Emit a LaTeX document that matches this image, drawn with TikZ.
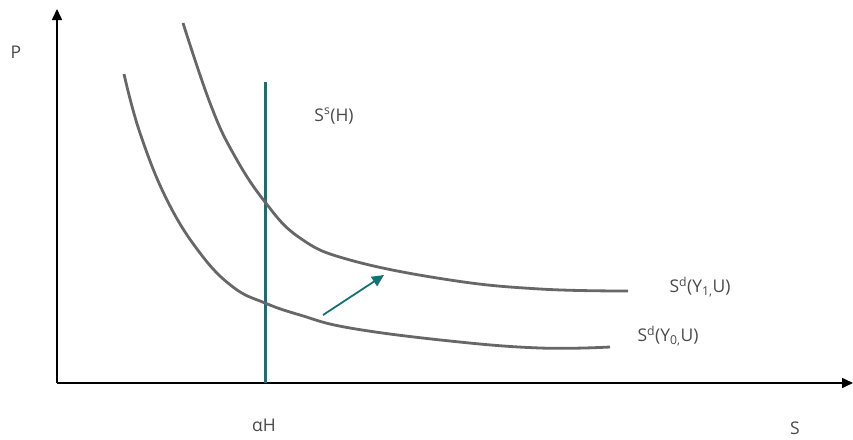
\documentclass[tikz,border=0pt]{standalone}
\usepackage{fontspec}
\setmainfont{Open Sans}
\usetikzlibrary{arrows.meta,positioning}
\definecolor{tealline}{HTML}{137273}
\definecolor{curvegrey}{HTML}{676767}
\definecolor{labelgrey}{HTML}{4A4A4A}

\begin{document}
\begin{tikzpicture}[x=1pt, y=-1pt,
  axis/.style={line width=1.6pt, -{Triangle[length=11pt, width=10pt]}},
  demand/.style={line width=2.8pt, color=curvegrey},
  supply/.style={line width=3pt, color=tealline},
  shift arrow/.style={line width=1.8pt, color=tealline, -{Triangle[length=12pt, width=11pt]}},
  lbl/.style={font=\fontsize{17.5}{20}\selectfont, text=labelgrey, inner sep=0pt}]
  \useasboundingbox (0,0) rectangle (853,439);
  % axes
  \coordinate (origin) at (57,383);
  \coordinate (ytop) at (57,9);
  \coordinate (xend) at (853,383);
  \draw[axis] (origin) -- (ytop);
  \draw[axis] (origin) -- (xend);
  \node[lbl] (plabel) at (16,52) {P};
  \node[lbl] (slabel) at (795,428) {S};
  % supply of housing
  \coordinate (stop) at (265,82);
  \coordinate (sbot) at (265,383);
  \draw[supply] (stop) -- (sbot);
  \node[lbl] (sslabel) at (334,116) {S\textsuperscript{s}(H)};
  \node[lbl] (ahlabel) at (264,425) {αH};
  % demand curves
  \draw[demand] plot[smooth, tension=0.7] coordinates {(183,23) (210,103) (233,153) (265,202)
    (300,238) (350,260) (450,280) (540,289) (628,291)};
  \draw[demand] plot[smooth, tension=0.7] coordinates {(124,74) (140,133) (167,200) (200,253)
    (233,287) (265,303) (300,315) (350,328) (450,341) (540,348) (610,347)};
  \node[lbl] (d1label) at (700,287) {S\textsuperscript{d}(Y\textsubscript{1,}U)};
  \node[lbl] (d0label) at (668,336) {S\textsuperscript{d}(Y\textsubscript{0,}U)};
  % shift
  \coordinate (shiftfrom) at (323,315);
  \coordinate (shiftto) at (384,275);
  \draw[shift arrow] (shiftfrom) -- (shiftto);
\end{tikzpicture}
\end{document}
